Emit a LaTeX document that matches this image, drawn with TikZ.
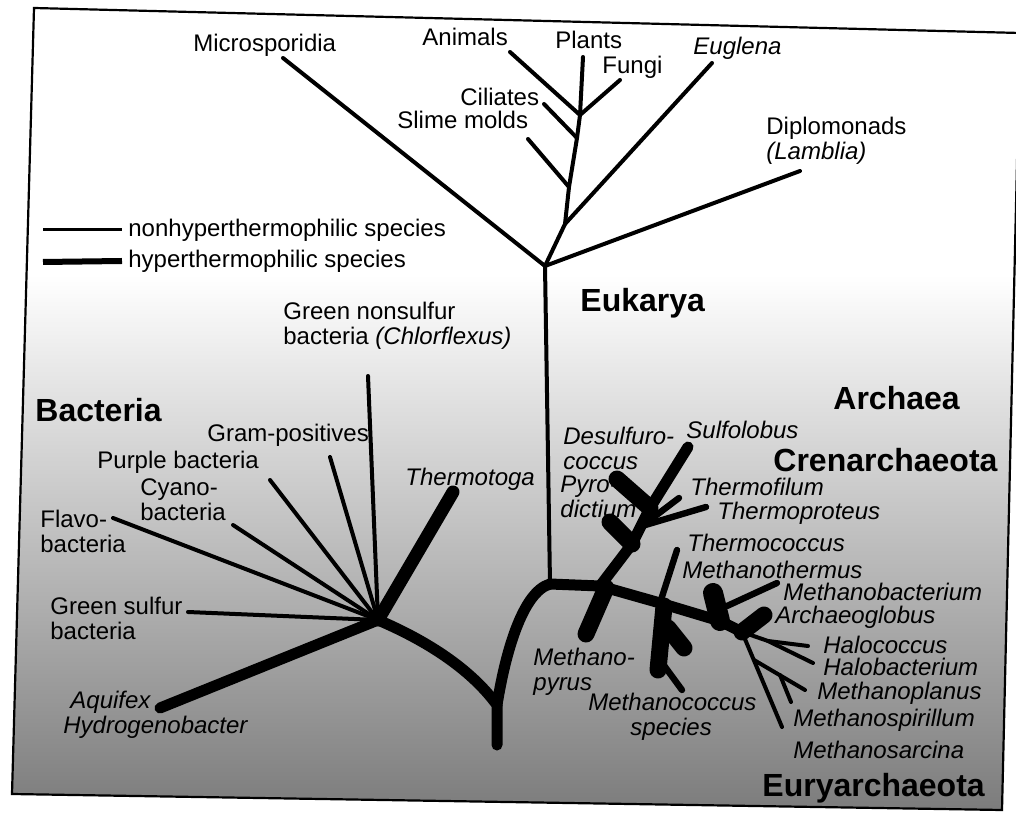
\documentclass[tikz,border=0pt]{standalone}
\usepackage{fontspec}
\setmainfont{Liberation Sans}
\usetikzlibrary{positioning}

\begin{document}
\begin{tikzpicture}[
    x=0.5pt, y=-0.5pt,
    cold/.style={line width=2pt, line cap=round, line join=round},
    mid/.style={line width=3.2pt, line cap=round},
    hot/.style={line width=5.5pt, line cap=round, line join=round},
    blob/.style={line width=8.5pt, line cap=round},
    lbl/.style={anchor=west, inner sep=0pt, align=left,
      font=\fontsize{12}{12.5}\selectfont},
    sp/.style={lbl, font=\fontsize{12}{12.5}\selectfont\itshape},
    dom/.style={anchor=west, inner sep=0pt,
      font=\fontsize{16}{18}\selectfont\bfseries},
  ]

  \useasboundingbox (0,0) rectangle (1016,817);

  % stippled ground and frame
  \begin{scope}
    \clip (34,8) -- (1020,33) -- (1002,810) -- (12,794) -- cycle;
    \shade[top color=white, middle color=black!14, bottom color=black!52]
      (0,275) rectangle (1020,817);
  \end{scope}
  \draw[line width=1.1pt] (34,8) -- (1020,33) -- (1002,810) -- (12,794) -- cycle;

  % Legend
  \coordinate (k1) at (43,230);
  \coordinate (k2) at (43,262);
  \node[lbl] (keycold) at (128,230) {nonhyperthermophilic species};
  \node[lbl] (keyhot) at (128,261) {hyperthermophilic species};
  \draw[line width=1.5pt] (k1) -- ([xshift=-3pt]keycold.west);
  \draw[line width=3pt] (k2) -- ([xshift=-3pt]keyhot.west);

  % Eukarya
  \coordinate (arch) at (550,584);
  \coordinate (ej) at (545,266);
  \coordinate (e1) at (565,224);
  \coordinate (e2) at (569,187);
  \coordinate (e3) at (577,138);
  \coordinate (e4) at (580,115);
  \coordinate (micro) at (283,58);
  \coordinate (diplo) at (800,171);
  \coordinate (eugl) at (712,63);
  \coordinate (slime) at (528,139);
  \coordinate (cili) at (544,104);
  \coordinate (anim) at (510,52);
  \coordinate (fung) at (620,80);
  \coordinate (plan) at (583,57);

  \draw[cold] (arch) -- (ej) -- (e1) -- (e2) -- (e3) -- (e4) -- (plan);
  \foreach \a/\b in {ej/micro, ej/diplo, e1/eugl, e2/slime, e3/cili,
                     e4/anim, e4/fung}
    \draw[cold] (\a) -- (\b);

  \node[lbl] (lmicro) at (193,45) {Microsporidia};
  \node[lbl] (lanim) at (422,37) {Animals};
  \node[lbl] (lplan) at (555,40) {Plants};
  \node[lbl] (lfung) at (602,67) {Fungi};
  \node[sp] (leugl) at (693,48) {Euglena};
  \node[lbl] (lcili) at (460,97) {Ciliates};
  \node[lbl] (lslime) at (397,120) {Slime molds};
  \node[lbl] (ldiplo) at (766,141) {Diplomonads\\\textit{(Lamblia)}};
  \node[dom] (leuk) at (580,303) {Eukarya};

  % Bacteria
  \coordinate (bj) at (378,620);
  \coordinate (gns) at (368,376);
  \coordinate (gpos) at (330,457);
  \coordinate (purp) at (270,480);
  \coordinate (cyan) at (233,525);
  \coordinate (flav) at (113,518);
  \coordinate (gsul) at (188,612);
  \coordinate (aqui) at (160,708);
  \coordinate (ttog) at (453,492);
  \coordinate (root) at (497,705);
  \coordinate (rootend) at (497,745);

  \foreach \t in {gns, gpos, purp, cyan, flav, gsul}
    \draw[cold] (\t) -- (bj);
  \draw[hot] (aqui) -- (bj);
  \draw[hot, line width=6.5pt] (bj) -- (ttog);
  \draw[hot] (bj) .. controls (425,640) and (470,668) .. (root) -- (rootend);
  \draw[hot] (root) .. controls (505,655) and (522,592) .. (arch);

  \node[lbl] (lgns) at (283,326) {Green nonsulfur\\bacteria \textit{(Chlorflexus)}};
  \node[dom] (lbac) at (35,410) {Bacteria};
  \node[lbl] (lgpos) at (207,435) {Gram-positives};
  \node[lbl] (lpurp) at (97,462) {Purple bacteria};
  \node[lbl] (lcyan) at (140,500) {Cyano-\\bacteria};
  \node[lbl] (lflav) at (40,531) {Flavo-\\bacteria};
  \node[lbl] (lgsul) at (50,618) {Green sulfur\\bacteria};
  \node[sp] (lttog) at (405,479) {Thermotoga};
  \node[sp] (laqui) at (63,715) {\hspace*{3.5pt}Aquifex\\Hydrogenobacter};

  % Archaea
  \coordinate (a1) at (600,586);
  \coordinate (a2) at (660,603);
  \coordinate (a3) at (720,621);
  \coordinate (a4) at (742,632);
  \draw[hot] (arch) -- (a1) -- (a2) -- (a3) -- (a4);

  % Crenarchaeota
  \coordinate (c1) at (632,544);
  \coordinate (c2) at (650,508);
  \coordinate (c3) at (642,526);
  \coordinate (sulf) at (688,447);
  \coordinate (desu) at (617,479);
  \coordinate (pyro) at (610,522);
  \coordinate (tfil) at (679,498);
  \coordinate (tpro) at (706,507);
  \draw[hot] (a1) -- (c1) -- (c2) -- (sulf);
  \draw[blob] (c1) -- (pyro);
  \draw[blob] (c2) -- (desu);
  \draw[mid] (c3) -- (tfil);
  \draw[mid] (c3) -- (tpro);

  % Euryarchaeota
  \coordinate (mpy0) at (606,588);
  \coordinate (mpyr) at (586,634);
  \coordinate (tcoc) at (677,550);
  \coordinate (mco0) at (664,606);
  \coordinate (mcoc) at (658,670);
  \coordinate (mcb0) at (668,628);
  \coordinate (mcob) at (684,648);
  \coordinate (mcs0) at (660,660);
  \coordinate (mcs) at (682,690);
  \coordinate (mbacb) at (713,593);
  \coordinate (mba0) at (727,606);
  \coordinate (mbac) at (777,583);
  \coordinate (agl) at (764,615);
  \coordinate (hn) at (768,641);
  \coordinate (hcoc) at (808,646);
  \coordinate (hbac) at (813,663);
  \coordinate (mspi) at (782,727);
  \coordinate (mpl0) at (754,660);
  \coordinate (mplan) at (805,690);
  \coordinate (msa0) at (780,675);
  \coordinate (msar) at (791,702);

  \draw[blob] (mpy0) -- (mpyr);
  \draw[mid] (a2) -- (tcoc);
  \draw[blob] (mco0) -- (mcoc);
  \draw[blob] (mcb0) -- (mcob);
  \draw[mid] (mcs0) -- (mcs);
  \draw[blob, line width=10pt] (a3) -- (mbacb);
  \draw[mid] (mba0) -- (mbac);
  \draw[blob] (a4) -- (agl);
  \draw[cold] (a4) -- (hn) -- (hcoc);
  \draw[cold] (hn) -- (hbac);
  \draw[cold] (a4) -- (mspi);
  \draw[cold] (mpl0) -- (mplan);
  \draw[cold] (msa0) -- (msar);

  \node[dom] (larch) at (833,398) {Archaea};
  \node[dom] (lcren) at (773,460) {Crenarchaeota};
  \node[sp] (ldesu) at (563,448) {Desulfuro-\\coccus};
  \node[sp] (lsulf) at (686,430) {Sulfolobus};
  \node[sp] (lpyro) at (560,497) {Pyro-\\dictium};
  \node[sp] (ltfil) at (690,487) {Thermofilum};
  \node[sp] (ltpro) at (717,513) {Thermoproteus};
  \node[sp] (ltcoc) at (687,543) {Thermococcus};
  \node[sp] (lmthe) at (682,570) {Methanothermus};
  \node[sp] (lmbac) at (783,592) {Methanobacterium};
  \node[sp] (lagl) at (775,617) {Archaeoglobus};
  \node[sp] (lhcoc) at (823,645) {Halococcus};
  \node[sp] (lhbac) at (823,667) {Halobacterium};
  \node[sp] (lmplan) at (817,693) {Methanoplanus};
  \node[sp] (lmspi) at (793,720) {Methanospirillum};
  \node[sp] (lmsar) at (793,750) {Methanosarcina};
  \node[sp] (lmpyr) at (533,672) {Methano-\\pyrus};
  \node[sp] (lmcoc) at (588,717) {Methanococcus\\\hspace*{21pt}species};
  \node[dom] (leury) at (762,788) {Euryarchaeota};

\end{tikzpicture}
\end{document}
